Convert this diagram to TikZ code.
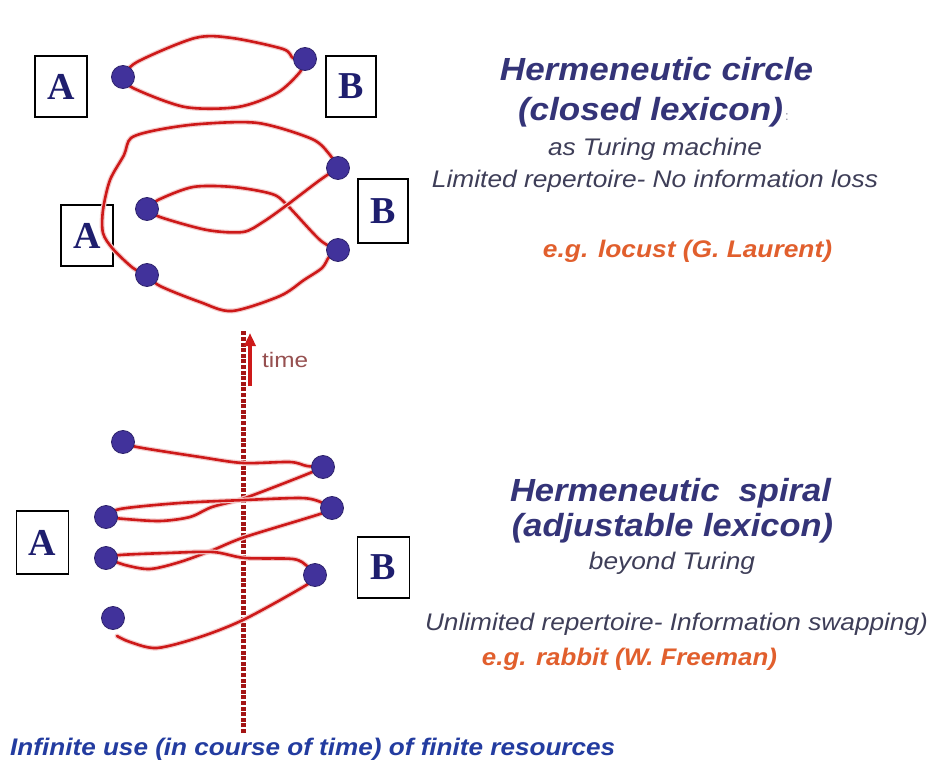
\documentclass[tikz,border=0pt]{standalone}
\usepackage{fontspec}
\usepackage{graphicx}
\setmainfont{Liberation Sans}
\newfontfamily\boxfont{Liberation Serif}
\usetikzlibrary{arrows.meta}
\definecolor{navy}{RGB}{52,52,120}
\definecolor{subgray}{RGB}{62,62,88}
\definecolor{orng}{RGB}{225,95,45}
\definecolor{bblue}{RGB}{35,60,160}
\definecolor{timec}{RGB}{150,80,80}
\definecolor{curve}{RGB}{205,25,25}
\definecolor{dotc}{RGB}{65,50,155}
\definecolor{letter}{RGB}{30,30,110}
\newcommand{\sw}[2]{\resizebox{#1pt}{\height}{#2}}
\begin{document}
\begin{tikzpicture}[x=1pt,y=-1pt,
  lbox/.style={draw=black,line width=1.2pt,fill=white,minimum width=52pt,minimum height=61pt,inner sep=0pt,
    font=\boxfont\fontsize{38}{40}\selectfont\bfseries,text=letter},
  dotn/.style={circle,fill=dotc,draw=dotc!70!black,line width=0.8pt,minimum size=23pt,inner sep=0pt},
  wire/.style={draw=curve,line width=2.6pt,line join=round,line cap=round,
    preaction={draw=curve!22,line width=5pt,line cap=round}},
  hd/.style={anchor=base,inner sep=0pt,font=\fontsize{32}{38}\selectfont\bfseries\itshape,text=navy},
  sub/.style={anchor=base,inner sep=0pt,font=\fontsize{24}{28}\selectfont\itshape,text=subgray},
  eg/.style={anchor=base,inner sep=0pt,font=\fontsize{24}{28}\selectfont\bfseries\itshape,text=orng}]
\useasboundingbox (0,0) rectangle (930,765);
\fill[white] (0,0) rectangle (930,765);

% boxes
\node[lbox] (a1) at (61,86.5) {A};
\node[lbox,minimum width=50pt] (b1) at (351,86.5) {B};
\node[lbox] (a2) at (87,235.5) {A};
\node[lbox,minimum width=50pt,minimum height=64pt] (b2) at (383,211) {B};
\node[lbox,minimum height=63pt] (a3) at (42.5,542.5) {A};
\node[lbox,minimum height=61pt] (b3) at (383.5,567.5) {B};

% dot positions
\coordinate (l1) at (123,77);
\coordinate (r1) at (305,59);
\coordinate (ur) at (338,168);
\coordinate (ml) at (147,209);
\coordinate (lr) at (338,250);
\coordinate (ll) at (147,275);
\coordinate (d1) at (123,442);
\coordinate (d2) at (323,467);
\coordinate (d3) at (106,517);
\coordinate (d4) at (332,508);
\coordinate (d5) at (106,558);
\coordinate (d6) at (315,575);
\coordinate (d7) at (113,618);
\coordinate (e7) at (117,636);

% time axis
\coordinate (ttop) at (243,330);
\coordinate (tbot) at (243,733);
\coordinate (atail) at (250,386);
\coordinate (ahead) at (250,333);
\draw[curve!80!black,line width=5pt,dash pattern=on 4pt off 1.6pt] (tbot) -- (ttop);
\draw[curve,line width=4pt,-{Triangle[length=13pt,width=11pt]}] (atail) -- (ahead);
\node[anchor=base west,inner sep=0pt,font=\fontsize{21}{24}\selectfont,text=timec] (tlabel) at (262,367) {\sw{46}{time}};

% top loop
\draw[wire] plot[smooth,tension=0.5] coordinates {(l1) (137,62) (195,38) (232,38) (283,49) (293,58) (r1)};
\draw[wire] plot[smooth,tension=0.5] coordinates {(l1) (133,88) (185,107) (238,107) (277,93) (300,72) (r1)};

% middle closed loop
\draw[wire] plot[smooth,tension=0.5] coordinates {(ur) (330,155) (312,139) (258,123) (200,124) (157,130) (131,138) (124,155) (110,180) (103,210) (103,233) (113,249) (133,268) (ll)};
\draw[wire] plot[smooth,tension=0.5] coordinates {(ll) (160,286) (200,302) (232,311) (280,296) (304,280) (322,268) (329,257) (lr)};
\draw[wire] plot[smooth,tension=0.5] coordinates {(lr) (320,240) (287,205) (272,194) (233,187) (193,187) (158,200) (ml)};
\draw[wire] plot[smooth,tension=0.5] coordinates {(ml) (160,217) (207,230) (243,232) (263,222) (287,205) (320,180) (ur)};

% spiral
\draw[wire] plot[smooth,tension=0.5] coordinates {(d1) (137,447) (200,457) (243,463) (290,462) (307,466) (d2)};
\draw[wire] plot[smooth,tension=0.5] coordinates {(d2) (305,475) (245,498) (212,507) (190,517) (160,521) (125,519) (d3)};
\draw[wire] plot[smooth,tension=0.5] coordinates {(d3) (120,509) (180,503) (245,500) (300,498) (318,501) (d4)};
\draw[wire] plot[smooth,tension=0.5] coordinates {(d4) (320,514) (245,537) (213,550) (180,562) (150,569) (125,565) (d5)};
\draw[wire] plot[smooth,tension=0.5] coordinates {(d5) (120,555) (167,553) (213,552) (245,558) (293,559) (307,566) (d6)};
\draw[wire] plot[smooth,tension=0.5] coordinates {(d6) (308,584) (245,619) (200,637) (157,648) (130,642) (e7)};

% dots
\foreach \p in {l1,r1,ur,ml,lr,ll,d1,d2,d3,d4,d5,d6,d7}
  \node[dotn] (n\p) at (\p) {};

% texts
\node[hd] (t1) at (656.5,81) {\sw{313}{Hermeneutic circle}};
\node[hd] (t2) at (650.5,121) {\sw{265}{(closed lexicon)}};
\node[anchor=base west,inner sep=0pt,font=\fontsize{13}{15}\selectfont,text=subgray!60] (t2c) at (785,121) {:};
\node[sub] (t3) at (655,156) {\sw{214}{as Turing machine}};
\node[sub] (t4) at (655,188) {\sw{446}{Limited repertoire- No information loss}};
\node[eg] (t5) at (687.5,258) {\sw{289}{e.g. locust (G. Laurent)}};
\node[hd] (t7) at (670.5,501) {\sw{321}{Hermeneutic\ \ spiral}};
\node[hd] (t8) at (672.5,536) {\sw{321}{(adjustable lexicon)}};
\node[sub] (t9) at (672,569) {\sw{166}{beyond Turing}};
\node[sub] (t10) at (676.5,630) {\sw{503}{Unlimited repertoire- Information swapping)}};
\node[eg] (t11) at (629.5,665) {\sw{295}{e.g. rabbit (W. Freeman)}};
\node[anchor=base west,inner sep=0pt,font=\fontsize{24}{28}\selectfont\bfseries\itshape,text=bblue] (t12) at (10,755) {\sw{605}{Infinite use (in course of time) of finite resources}};
\end{tikzpicture}
\end{document}
